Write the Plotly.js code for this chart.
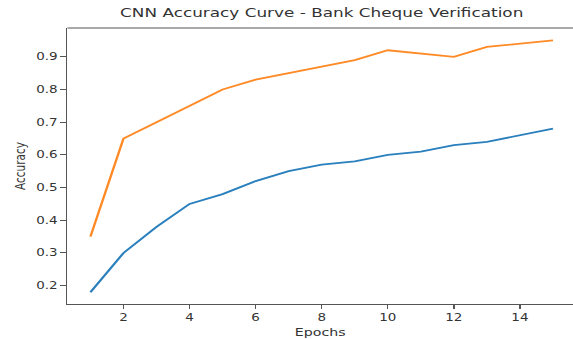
<!DOCTYPE html>
<html>
<head>
<meta charset="utf-8">
<script src="https://cdn.plot.ly/plotly-3.0.1.min.js"></script>
<style>
html, body { margin: 0; padding: 0; background: #fff; overflow: hidden; width: 573px; height: 339px; }
#chart { width: 425px; height: 339px; transform: scaleX(1.34824); transform-origin: 0 0; }
</style>
</head>
<body>
<div id="chart"></div>
<script>
const epochs = [1, 2, 3, 4, 5, 6, 7, 8, 9, 10, 11, 12, 13, 14, 15];
const trainAcc = [0.18, 0.30, 0.38, 0.45, 0.48, 0.52, 0.55, 0.57, 0.58, 0.60, 0.61, 0.63, 0.64, 0.66, 0.68];
const valAcc = [0.35, 0.65, 0.70, 0.75, 0.80, 0.83, 0.85, 0.87, 0.89, 0.92, 0.91, 0.90, 0.93, 0.94, 0.95];
const xTicks = [2, 4, 6, 8, 10, 12, 14];
const yTicks = [0.2, 0.3, 0.4, 0.5, 0.6, 0.7, 0.8, 0.9];
const yTickLabels = ["0.2", "0.3", "0.4", "0.5", "0.6", "0.7", "0.8", "0.9"];

const font = "DejaVu Sans, sans-serif";
const axisColor = "#555555";
const textColor = "#333333";

const traces = [
  { x: epochs, y: trainAcc, type: "scatter", mode: "lines", name: "Training Accuracy",
    line: { color: "#2a7fbd", width: 1.8 } },
  { x: epochs, y: valAcc, type: "scatter", mode: "lines", name: "Validation Accuracy",
    line: { color: "#ff8a26", width: 1.8 } }
];

const layout = {
  width: 425,
  height: 339,
  margin: { l: 50.4, r: 0, t: 28, b: 35, pad: 0 },
  paper_bgcolor: "#ffffff",
  plot_bgcolor: "#ffffff",
  showlegend: false,
  font: { family: font, color: textColor },
  title: {
    text: "CNN Accuracy Curve - Bank Cheque Verification",
    font: { family: font, size: 12.5, color: textColor },
    xref: "paper", x: 0.503, xanchor: "center",
    yref: "container", y: 0.962, yanchor: "middle"
  },
  xaxis: {
    range: [0.303, 15.606],
    tickmode: "array", tickvals: xTicks,
    ticks: "outside", ticklen: 4, tickwidth: 1, tickcolor: axisColor,
    showline: true, linecolor: axisColor, linewidth: 1.2, mirror: false,
    showgrid: false, zeroline: false,
    tickfont: { family: font, size: 10, color: textColor },
    title: { text: "Epochs", font: { family: font, size: 10.5, color: textColor }, standoff: 6 }
  },
  yaxis: {
    range: [0.144, 0.988],
    tickmode: "array", tickvals: yTicks, ticktext: yTickLabels,
    ticks: "outside", ticklen: 4, tickwidth: 1, tickcolor: axisColor,
    showline: true, linecolor: axisColor, linewidth: 1.2, mirror: false,
    showgrid: false, zeroline: false,
    tickfont: { family: font, size: 10, color: textColor },
    title: { text: "Accuracy", font: { family: font, size: 10.5, color: textColor }, standoff: 5.5 }
  },
  shapes: [
    { type: "line", xref: "paper", yref: "paper", x0: 0, x1: 1, y0: 1, y1: 1,
      line: { color: axisColor, width: 1.2 } }
  ]
};

Plotly.newPlot("chart", traces, layout, { displayModeBar: false, staticPlot: true });
</script>
</body>
</html>
